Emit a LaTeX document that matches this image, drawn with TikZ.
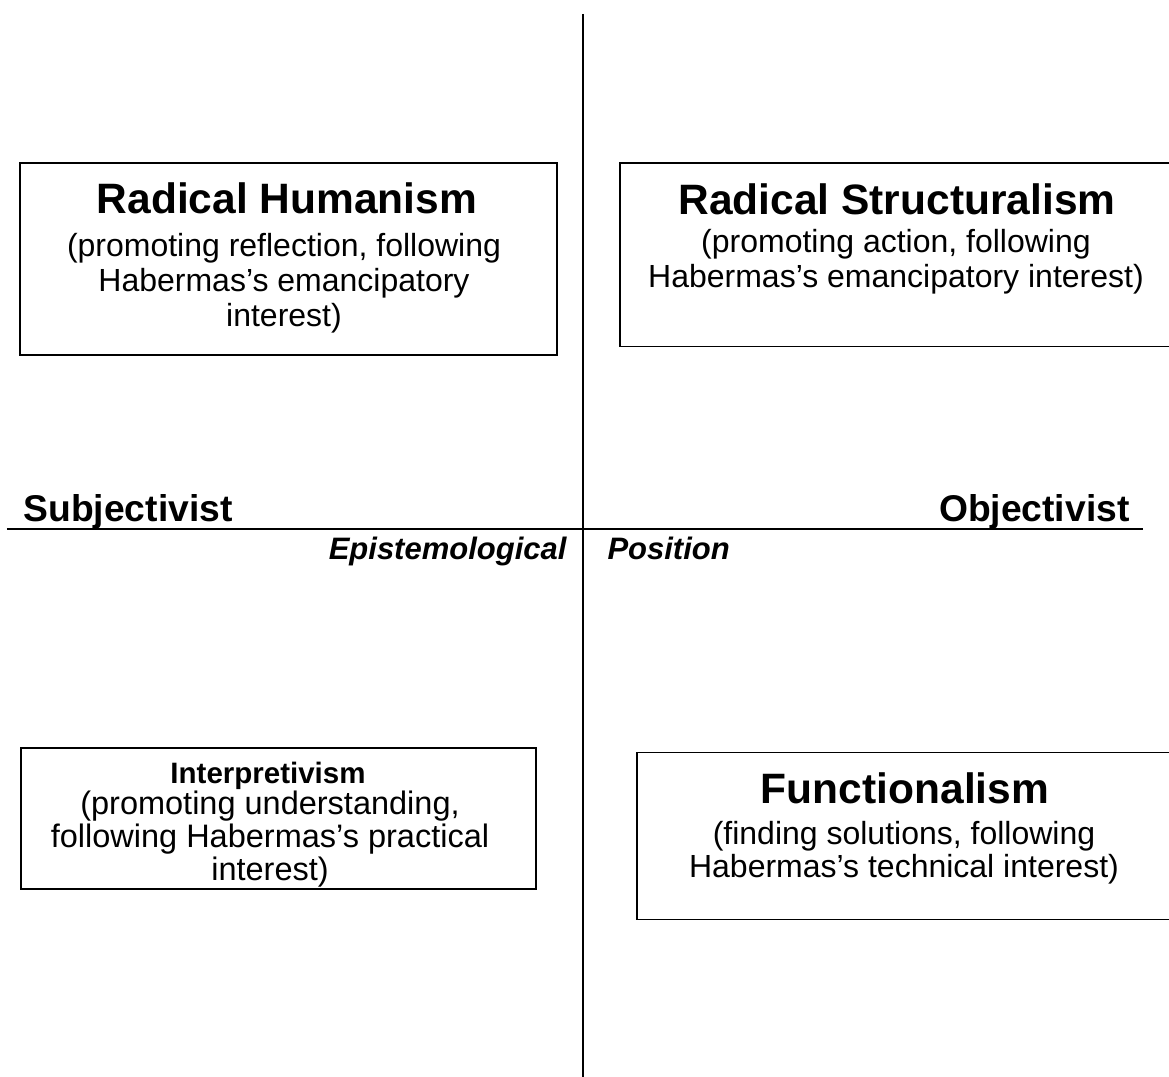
\documentclass[tikz,border=0pt]{standalone}
\usepackage{fontspec}
\setmainfont{Liberation Sans}
\usepackage{tikz}

\begin{document}
\begin{tikzpicture}[x=0.4pt, y=-0.4pt,
  box/.style={draw, line width=0.75pt, inner sep=0pt},
  title/.style={font=\bfseries\fontsize{17}{19}\selectfont, inner sep=0pt, anchor=base},
  blurb/.style={font=\fontsize{12.8}{13.9}\selectfont, align=center, inner sep=0pt, anchor=base},
  side/.style={font=\bfseries\fontsize{14.9}{17}\selectfont, inner sep=0pt},
  epi/.style={font=\bfseries\itshape\fontsize{12.4}{15}\selectfont, inner sep=0pt}]
\useasboundingbox (0,0) rectangle (1169,1077);

\coordinate (ytop) at (583,14);
\coordinate (ybot) at (583,1080);
\coordinate (xleft) at (7,529);
\coordinate (xright) at (1143,529);
\draw [line width=0.8pt] (ytop) -- (ybot);
\draw [line width=0.8pt] (xleft) -- (xright);

\node [side, anchor=base west] (subj) at (23,521.5) {Subjectivist};
\node [side, anchor=base east] (obj) at (1130,521.5) {Objectivist};
\node [epi, anchor=base east] (epi) at (567,560) {Epistemological};
\node [epi, anchor=base west] (pos) at (607,560) {Position};

% the base of a text block is the base of its last line
\node [box, minimum width=214.8pt, minimum height=76.8pt] (rhbox) at (288.5,259) {};
\node [title] (rh) at (287,214) {Radical Humanism};
\node [blurb] (rhtext) at (284,326.5) {(promoting reflection, following\\Habermas’s emancipatory\\interest)};

\node [box, minimum width=221.6pt, minimum height=73.4pt] (rsbox) at (897,254.75) {};
\node [title] (rs) at (897,215) {Radical Structuralism};
\node [blurb] (rstext) at (896,287.5) {(promoting action, following\\Habermas’s emancipatory interest)};

\node [box, minimum width=206pt, minimum height=56.4pt] (inbox) at (278.5,818.5) {};
\node [title, font=\bfseries\fontsize{11.8}{14}\selectfont] (in) at (268,784) {Interpretivism};
\node [blurb, font=\fontsize{13}{13.3}\selectfont] (intext) at (270,881) {(promoting understanding,\\following Habermas’s practical\\interest)};

\node [box, minimum width=213.6pt, minimum height=66.8pt] (fnbox) at (904,836) {};
\node [title] (fn) at (905,804) {Functionalism};
\node [blurb, font=\fontsize{12.8}{13.2}\selectfont] (fntext) at (904,878) {(finding solutions, following\\Habermas’s technical interest)};
\end{tikzpicture}
\end{document}
